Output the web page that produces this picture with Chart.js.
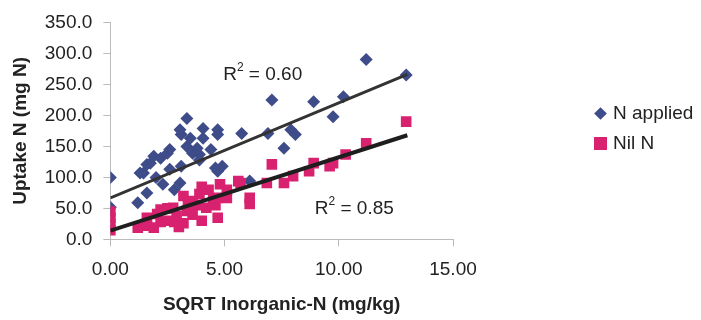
<!DOCTYPE html>
<html>
<head>
<meta charset="utf-8">
<script src="https://cdn.jsdelivr.net/npm/chart.js@4/dist/chart.umd.min.js"></script>
<style>
  body { margin: 0; background: #fff; }
  #wrap { position: relative; width: 701px; height: 320px; }
  #legend { position: absolute; left: 594px; top: 98px; font: 19px "Liberation Sans", Arial, sans-serif; color: #222; }
  .item { display: flex; align-items: center; height: 30px; }
  .mark { width: 13px; height: 13px; margin-right: 6px; }
  .diamond { width: 9px; height: 9px; transform: rotate(45deg); margin: 0 8px 0 2px; }
</style>
</head>
<body>
<div id="wrap">
  <canvas id="chart" width="701" height="320"></canvas>
  <div id="legend"></div>
</div>
<script>
// N applied (blue diamonds)
const appliedX = [0, 0, 1.2, 1.6, 1.45, 1.3, 1.6, 1.75, 1.9, 2.2, 2.3, 2.5, 2.6, 2.6, 2.0, 2.8,
  3.05, 3.1, 3.1, 3.05, 3.35, 3.35, 3.5, 3.6, 3.8, 3.9, 3.9, 4.06, 4.06, 4.4, 4.7, 4.7, 4.7, 4.6,
  4.9, 5.75, 6.1, 6.9, 7.07, 7.6, 7.9, 8.1, 8.9, 9.75, 10.2, 11.2, 12.95];
const appliedY = [100, 52, 59, 75, 107, 107, 121, 123, 134, 131, 89, 139, 113, 145, 100, 80,
  91, 118, 169, 177, 150, 195, 163, 139, 147, 137, 128, 163, 179, 145, 169, 177, 110, 115,
  118, 171, 94, 171, 225, 147, 177, 169, 222, 198, 230, 290, 265];

// Nil N (pink squares)
const nilX = [0, 0, 0, 0, 1.2, 1.6, 1.6, 1.9, 2.05, 2.2, 2.2, 2.5, 2.5, 2.75, 2.8, 2.9, 3.0, 3.2,
  3.2, 3.35, 3.4, 3.6, 3.6, 3.8, 3.9, 4.0, 4.0, 4.2, 4.3, 4.5, 4.6, 4.7, 4.7, 4.8, 5.1, 5.1,
  5.6, 5.7, 6.1, 6.1, 6.85, 7.07, 7.6, 8.0, 8.7, 8.9, 9.6, 9.75, 10.3, 11.2, 12.95];
const nilY = [15, 25, 35, 45, 19, 35, 22, 19, 41, 28, 48, 30, 50, 51, 28, 38, 20, 26,
  70, 46, 60, 62, 40, 55, 73, 30, 85, 51, 80, 65, 55, 35, 67, 89, 67, 80,
  94, 91, 57, 67, 91, 121, 91, 102, 110, 123, 118, 123, 137, 155, 190];

// linear trend lines
const trendX = [0, 13];
const trendApplied = [67, 266];
const trendNil = [14, 168];

const seriesNames = ["N applied", "Nil N"];
const seriesColors = ["#3f4c8a", "#d8226f"];
const r2Labels = [
  { text: "0.60", x: 4.94, y: 265 },
  { text: "0.85", x: 8.95, y: 49 },
];

const toPoints = (xs, ys) => xs.map((x, i) => ({ x: x, y: ys[i] }));

const font = '"Liberation Sans", Arial, sans-serif';
const textColor = "#222";

const r2Plugin = {
  id: "r2",
  afterDatasetsDraw(chart) {
    const ctx = chart.ctx;
    const xs = chart.scales.x, ys = chart.scales.y;
    ctx.save();
    ctx.fillStyle = textColor;
    ctx.textBaseline = "middle";
    for (const lbl of r2Labels) {
      let px = xs.getPixelForValue(lbl.x);
      const py = ys.getPixelForValue(lbl.y);
      ctx.font = "19px " + font;
      ctx.fillText("R", px, py);
      px += ctx.measureText("R").width;
      ctx.font = "12px " + font;
      ctx.fillText("2", px, py - 7);
      px += ctx.measureText("2").width;
      ctx.font = "19px " + font;
      ctx.fillText(" = " + lbl.text, px, py);
    }
    ctx.restore();
  },
};

const chart = new Chart(document.getElementById("chart"), {
  type: "scatter",
  data: {
    datasets: [
      {
        label: "trend applied",
        type: "line",
        data: toPoints(trendX, trendApplied),
        borderColor: "#333",
        borderWidth: 3,
        pointRadius: 0,
        order: 0,
      },
      {
        label: "trend nil",
        type: "line",
        data: toPoints(trendX, trendNil),
        borderColor: "#1e1e1e",
        borderWidth: 4,
        pointRadius: 0,
        order: 0,
      },
      {
        label: seriesNames[1],
        data: toPoints(nilX, nilY),
        pointStyle: "rect",
        pointRadius: 7.5,
        backgroundColor: seriesColors[1],
        borderWidth: 0,
        order: 1,
      },
      {
        label: seriesNames[0],
        data: toPoints(appliedX, appliedY),
        pointStyle: "rectRot",
        pointRadius: 6.5,
        backgroundColor: seriesColors[0],
        borderWidth: 0,
        order: 2,
      },
    ],
  },
  options: {
    responsive: false,
    animation: false,
    layout: { padding: { left: 5, top: 17, right: 248, bottom: 2 } },
    plugins: { legend: { display: false }, tooltip: { enabled: false } },
    scales: {
      x: {
        min: 0,
        max: 15,
        border: { color: "#bbb" },
        grid: { drawOnChartArea: false, tickLength: 7, color: "#bbb" },
        ticks: {
          stepSize: 5,
          padding: 12,
          color: textColor,
          font: { family: font, size: 19 },
          callback: (v) => v.toFixed(2),
        },
        title: {
          display: true,
          text: "SQRT Inorganic-N (mg/kg)",
          color: textColor,
          font: { family: font, size: 19, weight: "bold" },
          padding: { top: 0, bottom: 2 },
        },
      },
      y: {
        min: 0,
        max: 350,
        border: { color: "#bbb" },
        grid: { drawOnChartArea: false, tickLength: 7, color: "#bbb" },
        ticks: {
          stepSize: 50,
          padding: 11,
          color: textColor,
          font: { family: font, size: 19 },
          callback: (v) => v.toFixed(1),
        },
        title: {
          display: true,
          text: "Uptake N (mg N)",
          color: textColor,
          font: { family: font, size: 19, weight: "bold" },
          padding: { top: 4, bottom: 2 },
        },
      },
    },
  },
  plugins: [r2Plugin],
});

// legend built from the series names and colours
const legendEl = document.getElementById("legend");
seriesNames.forEach((name, i) => {
  const item = document.createElement("div");
  item.className = "item";
  const mark = document.createElement("span");
  mark.className = i === 0 ? "mark diamond" : "mark";
  mark.style.background = seriesColors[i];
  const label = document.createElement("span");
  label.textContent = name;
  item.appendChild(mark);
  item.appendChild(label);
  legendEl.appendChild(item);
});
</script>
</body>
</html>
